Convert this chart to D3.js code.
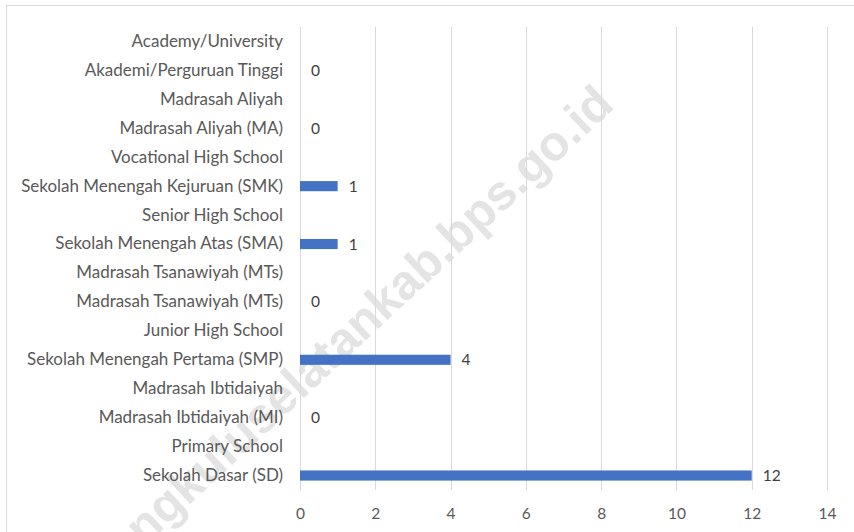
<!DOCTYPE html>
<html><head><meta charset="utf-8">
<script src="https://cdn.jsdelivr.net/npm/d3@7/dist/d3.min.js"></script>
<style>
html,body{margin:0;padding:0;background:#fff;}
svg{display:block;}
</style></head>
<body>
<svg id="chart" width="854" height="532"></svg>
<script>
const categories = [
  "Academy/University",
  "Akademi/Perguruan Tinggi",
  "Madrasah Aliyah",
  "Madrasah Aliyah (MA)",
  "Vocational High School",
  "Sekolah Menengah Kejuruan (SMK)",
  "Senior High School",
  "Sekolah Menengah Atas (SMA)",
  "Madrasah Tsanawiyah (MTs)",
  "Madrasah Tsanawiyah (MTs)",
  "Junior High School",
  "Sekolah Menengah Pertama (SMP)",
  "Madrasah Ibtidaiyah",
  "Madrasah Ibtidaiyah (MI)",
  "Primary School",
  "Sekolah Dasar (SD)"
];
const values = [null, 0, null, 0, null, 1, null, 1, null, 0, null, 4, null, 0, null, 12];
const xTicks = [0, 2, 4, 6, 8, 10, 12, 14];
const watermark = "bengkuluselatankab.bps.go.id";

const svg = d3.select("#chart");
const mLeft = 300, mRight = 827, mTop = 27, mBottom = 490;
const font = "Lato, 'Open Sans', sans-serif";

// watermark (behind everything)
svg.append("text")
  .attr("transform", "translate(616,107) rotate(-43)")
  .attr("text-anchor", "end")
  .attr("font-family", "'Liberation Sans', Arial, sans-serif")
  .attr("font-weight", "bold")
  .attr("font-size", 49)
  .attr("fill", "#e4e4e4")
  .text(watermark);

// chart border (top and left visible)
svg.append("path")
  .attr("d", `M854.5,5.5 H6.5 V532`)
  .attr("fill", "none").attr("stroke", "#d9d9d9").attr("stroke-width", 1);

const x = d3.scaleLinear().domain([0, 14]).range([mLeft, mRight]);
const y = d3.scaleBand().domain(d3.range(categories.length)).range([mTop, mBottom]).paddingInner(0.65).paddingOuter(0.325);
const yc = i => y(i) + y.bandwidth() / 2;

// gridlines
svg.append("g").selectAll("line").data(xTicks).join("line")
  .attr("x1", d => Math.round(x(d)) + 0.5).attr("x2", d => Math.round(x(d)) + 0.5)
  .attr("y1", mTop).attr("y2", mBottom)
  .attr("stroke", "#d9d9d9").attr("stroke-width", 1);

// bars
const barData = values.map((v, i) => ({ v, i })).filter(d => d.v !== null);
svg.append("g").selectAll("rect").data(barData).join("rect")
  .attr("x", x(0))
  .attr("y", d => y(d.i))
  .attr("width", d => x(d.v) - x(0))
  .attr("height", y.bandwidth())
  .attr("fill", "#4472c4");

// value labels
svg.append("g").selectAll("text").data(barData).join("text")
  .attr("x", d => x(d.v) + 11)
  .attr("y", d => yc(d.i))
  .attr("dy", "0.36em")
  .attr("font-family", font).attr("font-size", 15.5)
  .attr("fill", "#404040")
  .text(d => d.v);

// category labels via axis
const yAxis = d3.axisLeft(y).tickSize(0).tickPadding(17).tickFormat(i => categories[i]);
const gy = svg.append("g").attr("transform", `translate(${mLeft},0)`).call(yAxis);
gy.select(".domain").remove();
gy.selectAll("text").attr("font-family", font).attr("font-size", 15).attr("fill", "#595959");

// fit width of longest label to ~262px
let maxW = 0;
gy.selectAll("text").each(function(){ maxW = Math.max(maxW, this.getComputedTextLength()); });
const fs = 15 * 262 / maxW;
gy.selectAll("text").attr("font-size", fs);

// x axis
const xAxis = d3.axisBottom(x).tickValues(xTicks).tickSize(0).tickPadding(18);
const gx = svg.append("g").attr("transform", `translate(0,${mBottom})`).call(xAxis);
gx.select(".domain").remove();
gx.selectAll("text").attr("font-family", font).attr("font-size", 15.5).attr("fill", "#595959");
</script>
</body></html>
